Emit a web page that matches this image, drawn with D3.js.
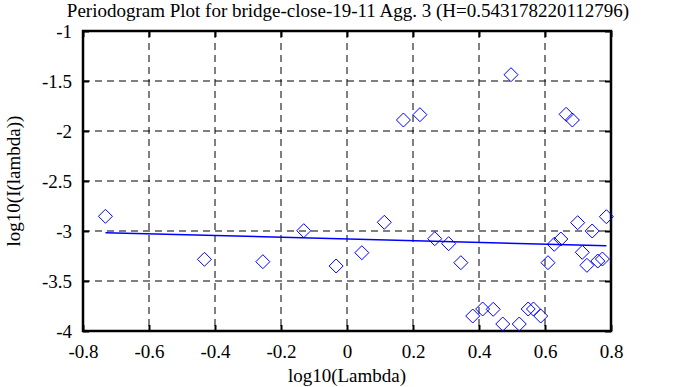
<!DOCTYPE html>
<html>
<head>
<meta charset="utf-8">
<script src="https://cdn.jsdelivr.net/npm/d3@7"></script>
<style>
  body { margin: 0; background: #fff; }
  svg text { font-family: "Liberation Serif", "DejaVu Serif", serif; fill: #000; }
</style>
</head>
<body>
<svg id="chart"></svg>
<script>
// log10(lambda) values
var logLambda = [-0.732, -0.432, -0.255, -0.131, -0.033, 0.045, 0.113, 0.171, 0.221, 0.266,
    0.308, 0.345, 0.381, 0.411, 0.443, 0.472, 0.497, 0.522, 0.549, 0.565,
    0.587, 0.609, 0.628, 0.648, 0.664, 0.683, 0.699, 0.713, 0.727, 0.743,
    0.760, 0.774, 0.786];
// log10(I(lambda)) values
var logPower = [-2.853, -3.283, -3.307, -2.997, -3.35, -3.217, -2.913, -1.89, -1.837, -3.077,
    -3.127, -3.317, -3.85, -3.78, -3.783, -3.93, -1.437, -3.93, -3.78, -3.78,
    -3.85, -3.317, -3.133, -3.08, -1.833, -1.89, -2.917, -3.213, -3.343, -3.0,
    -3.3, -3.28, -2.857];

var hurst = 0.543178220112796;
var fitSlope = 1 - 2 * hurst;
var fitIntercept = -3.080;

var xTicks = [-0.8, -0.6, -0.4, -0.2, 0, 0.2, 0.4, 0.6, 0.8];
var yTicks = [-1, -1.5, -2, -2.5, -3, -3.5, -4];

var margin = {top: 31, right: 84, bottom: 56, left: 83},
    svgWidth = 695, svgHeight = 387,
    width = svgWidth - margin.left - margin.right,
    height = svgHeight - margin.top - margin.bottom;

var svg = d3.select("#chart")
    .attr("width", svgWidth)
    .attr("height", svgHeight);

var g = svg.append("g")
    .attr("transform", "translate(" + margin.left + "," + margin.top + ")");

var x = d3.scaleLinear().domain([-0.8, 0.8]).range([0, width]);
var y = d3.scaleLinear().domain([-4, -1]).range([height, 0]);

var fmt = function(d) { return String(d); };

// dashed grid
g.selectAll(".gx")
    .data(xTicks.slice(1, -1))
    .enter().append("line")
    .attr("x1", function(d) { return x(d); })
    .attr("x2", function(d) { return x(d); })
    .attr("y1", 0)
    .attr("y2", height)
    .attr("stroke", "#000")
    .attr("stroke-width", 1)
    .attr("stroke-dasharray", "7,5");

g.selectAll(".gy")
    .data(yTicks.slice(1, -1))
    .enter().append("line")
    .attr("x1", 0)
    .attr("x2", width)
    .attr("y1", function(d) { return y(d); })
    .attr("y2", function(d) { return y(d); })
    .attr("stroke", "#000")
    .attr("stroke-width", 1)
    .attr("stroke-dasharray", "7,5");

// axes with inward ticks
var axisStyle = function(sel) {
    sel.attr("font-family", "Liberation Serif").attr("font-size", 19);
    sel.select(".domain").remove();
    sel.selectAll(".tick line").attr("stroke", "#000").attr("stroke-width", 2);
    sel.selectAll(".tick text").attr("fill", "#000");
};

g.append("g")
    .attr("transform", "translate(0," + height + ")")
    .call(d3.axisBottom(x).tickValues(xTicks).tickSize(-6).tickPadding(14).tickFormat(fmt))
    .call(axisStyle);

g.append("g")
    .call(d3.axisTop(x).tickValues(xTicks).tickSize(-6).tickFormat(""))
    .call(axisStyle);

g.append("g")
    .call(d3.axisLeft(y).tickValues(yTicks).tickSize(-6).tickPadding(11).tickFormat(fmt))
    .call(axisStyle);

g.append("g")
    .attr("transform", "translate(" + width + ",0)")
    .call(d3.axisRight(y).tickValues(yTicks).tickSize(-6).tickFormat(""))
    .call(axisStyle);

// frame
g.append("rect")
    .attr("width", width)
    .attr("height", height)
    .attr("fill", "none")
    .attr("stroke", "#000")
    .attr("stroke-width", 2.5);

// fitted line
var xExt = d3.extent(logLambda);
g.append("line")
    .attr("x1", x(xExt[0]))
    .attr("y1", y(fitIntercept + fitSlope * xExt[0]))
    .attr("x2", x(xExt[1]))
    .attr("y2", y(fitIntercept + fitSlope * xExt[1]))
    .attr("stroke", "#0000ff")
    .attr("stroke-width", 1.5);

// diamonds
var points = logLambda.map(function(d, i) { return {x: d, y: logPower[i]}; });
g.selectAll(".pt")
    .data(points)
    .enter().append("path")
    .attr("class", "pt")
    .attr("transform", function(d) { return "translate(" + x(d.x) + "," + y(d.y) + ")"; })
    .attr("d", "M0,-7L7,0L0,7L-7,0Z")
    .attr("fill", "none")
    .attr("stroke", "#0000ff")
    .attr("stroke-width", 1);

// titles
svg.append("text")
    .attr("x", 348)
    .attr("y", 17)
    .attr("text-anchor", "middle")
    .style("font-size", "19px")
    .text("Periodogram Plot for bridge-close-19-11 Agg. 3 (H=" + hurst + ")");

svg.append("text")
    .attr("x", margin.left + width / 2)
    .attr("y", 382)
    .attr("text-anchor", "middle")
    .style("font-size", "19px")
    .text("log10(Lambda)");

svg.append("text")
    .attr("transform", "translate(20," + (margin.top + height / 2) + ") rotate(-90)")
    .attr("text-anchor", "middle")
    .style("font-size", "19px")
    .text("log10(I(lambda))");
</script>
</body>
</html>
